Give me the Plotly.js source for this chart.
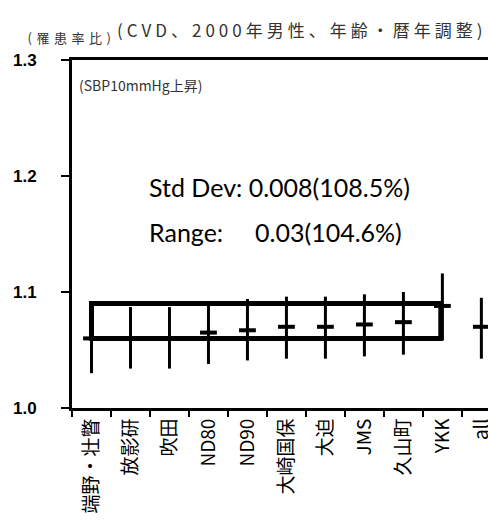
<!DOCTYPE html>
<html><head><meta charset="utf-8">
<script src="https://cdn.plot.ly/plotly-3.0.1.min.js"></script>
<style>
html,body{margin:0;padding:0;background:#fff;overflow:hidden}
g.annotation[data-index="0"] text{letter-spacing:4.5px}
g.annotation[data-index="1"] text{letter-spacing:4px}
</style>
</head><body><div id="chart" style="width:488px;height:529px"></div>
<script>
const categories = ["端野・壮瞥","放影研","吹田","ND80","ND90","大崎国保","大迫","JMS","久山町","YKK","all"];
const estimates = [1.060, 1.060, 1.060, 1.065, 1.067, 1.070, 1.070, 1.072, 1.074, 1.088, 1.070];
const upperCI  = [1.091, 1.087, 1.087, 1.090, 1.094, 1.096, 1.096, 1.098, 1.100, 1.116, 1.095];
const lowerCI  = [1.030, 1.034, 1.034, 1.038, 1.041, 1.0425, 1.0425, 1.0445, 1.046, 1.0586, 1.0425];
const yTicks = [1.0, 1.1, 1.2, 1.3];
const statText = ["Std Dev: 0.008(108.5%)", "Range:     0.03(104.6%)"];

const plus = upperCI.map((u,i)=>u-estimates[i]);
const minus = estimates.map((e,i)=>e-lowerCI[i]);
const boxLow = Math.min(...estimates.slice(0,10));
const boxHigh = Math.max(...estimates.slice(0,10));

const trace = {
  x: categories, y: estimates, type: "scatter", mode: "markers",
  marker: {symbol: "line-ew", size: 12, color: "#000", line: {color: "#000", width: 4}},
  error_y: {type: "data", array: plus, arrayminus: minus, visible: true, color: "#000", thickness: 3, width: 0},
  cliponaxis: false, hoverinfo: "none"
};

const cjk = '"Noto Sans CJK JP", sans-serif';
const layout = {
  width: 488, height: 529,
  margin: {l: 72, r: 0, t: 60, b: 121},
  paper_bgcolor: "#fff", plot_bgcolor: "#fff",
  showlegend: false,
  xaxis: {
    type: "category", range: [-0.5, 10.17], tickson: "boundaries",
    ticks: "outside", ticklen: 6, tickwidth: 2, tickcolor: "#000",
    showline: true, linewidth: 3, linecolor: "#000", mirror: true,
    showgrid: false, zeroline: false, tickangle: -90,
    tickfont: {family: cjk, size: 19, color: "#000"}
  },
  yaxis: {
    range: [1.0, 1.3], tickvals: yTicks, tickformat: ".1f",
    ticks: "outside", ticklen: 8, tickwidth: 2, tickcolor: "#000",
    showline: true, linewidth: 3, linecolor: "#000",
    showgrid: false, zeroline: false, ticklabelstandoff: 21,
    tickfont: {family: "Liberation Sans, Arial, sans-serif", size: 17, color: "#000", weight: "bold"}
  },
  shapes: [{
    type: "rect", xref: "x", yref: "y", x0: 0, x1: 8.96, y0: boxLow, y1: boxHigh + 0.002,
    line: {color: "#000", width: 5}
  }],
  annotations: [
    {xref: "paper", yref: "paper", x: -0.079, y: 1.066, xanchor: "left", yanchor: "middle", showarrow: false,
     text: "(罹患率比)", font: {family: cjk, size: 13, color: "#333"}},
    {xref: "paper", yref: "paper", x: 0.204, y: 1.088, xanchor: "left", yanchor: "middle", showarrow: false,
     text: "(CVD、2000年男性、年齢・暦年調整)", font: {family: cjk, size: 17, color: "#333"}},
    {xref: "paper", yref: "paper", x: 0.012, y: 0.928, xanchor: "left", yanchor: "middle", showarrow: false,
     text: "(SBP10mmHg上昇)", font: {family: cjk, size: 14, color: "#333"}},
    {xref: "paper", yref: "paper", x: 0.18, y: 0.635, xanchor: "left", yanchor: "middle", showarrow: false,
     text: statText[0], font: {family: "Lato, sans-serif", size: 25, color: "#000"}},
    {xref: "paper", yref: "paper", x: 0.18, y: 0.506, xanchor: "left", yanchor: "middle", showarrow: false,
     text: statText[1].replace(/ {2,}/g, m => "&nbsp;".repeat(m.length)), font: {family: "Lato, sans-serif", size: 25, color: "#000"}}
  ]
};
Plotly.newPlot("chart", [trace], layout, {staticPlot: true, displayModeBar: false});
</script></body></html>
